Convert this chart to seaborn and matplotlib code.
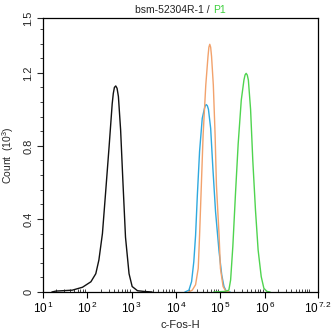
import numpy as np
import pandas as pd
import matplotlib
matplotlib.use("Agg")
import matplotlib.pyplot as plt
from matplotlib.ticker import FixedLocator, FuncFormatter
import seaborn as sns

# Histogram traces: log10(c-Fos-H) positions and counts (x10^3)
black_log = [1.20, 1.29, 1.66, 1.89, 2.08, 2.19, 2.26, 2.34, 2.41, 2.49, 2.56, 2.585, 2.61,
             2.64, 2.67, 2.70, 2.75, 2.80, 2.86, 2.94, 3.01, 3.13, 3.28, 3.46]
black_cnt = [0.0, 0.005, 0.010, 0.026, 0.056, 0.10, 0.175, 0.32, 0.54, 0.795, 1.03, 1.087, 1.12,
             1.128, 1.115, 1.07, 0.887, 0.613, 0.30, 0.10, 0.03, 0.007, 0.003, 0.0]

blue_log = [4.20, 4.29, 4.35, 4.40, 4.44, 4.48, 4.53, 4.59, 4.64, 4.66, 4.68, 4.705, 4.73, 4.78,
            4.83, 4.89, 4.97, 5.03, 5.08, 5.13, 5.22]
blue_cnt = [0.0, 0.01, 0.057, 0.166, 0.31, 0.53, 0.77, 0.95, 1.005, 1.02, 1.026, 1.02, 1.0, 0.896,
            0.677, 0.44, 0.22, 0.093, 0.03, 0.005, 0.0]

orange_log = [4.28, 4.365, 4.44, 4.50, 4.53, 4.57, 4.61, 4.67, 4.72, 4.74, 4.76, 4.78, 4.80, 4.84,
              4.88, 4.91, 4.97, 5.00, 5.06, 5.12, 5.20]
orange_cnt = [0.0, 0.01, 0.04, 0.13, 0.31, 0.585, 0.86, 1.133, 1.29, 1.34, 1.356, 1.34, 1.29, 1.133,
              0.86, 0.585, 0.31, 0.13, 0.03, 0.005, 0.0]

green_log = [4.85, 5.10, 5.19, 5.23, 5.28, 5.34, 5.40, 5.47, 5.53, 5.555, 5.58, 5.605, 5.63, 5.68,
             5.73, 5.79, 5.85, 5.92, 5.98, 6.05, 6.12]
green_cnt = [0.0, 0.003, 0.01, 0.066, 0.25, 0.54, 0.81, 1.05, 1.16, 1.188, 1.197, 1.188, 1.16, 1.0,
             0.72, 0.45, 0.23, 0.084, 0.02, 0.003, 0.0]

series_names = ["isotype", "blank", "antibody", "P1"]
series_colors = ["#111111", "#2fa9df", "#f2a26c", "#4fd44f"]

x_tick_exps = [1, 2, 3, 4, 5, 6, 7.2]
x_tick_labels = ["1", "2", "3", "4", "5", "6", "7.2"]
y_major = [0, 0.4, 0.8, 1.2, 1.5]
y_major_labels = ["0", "0.4", "0.8", "1.2", "1.5"]

frames = []
for name, lg, ct in zip(series_names,
                        [black_log, blue_log, orange_log, green_log],
                        [black_cnt, blue_cnt, orange_cnt, green_cnt]):
    frames.append(pd.DataFrame({"x": np.power(10.0, lg), "count": ct, "series": name}))
df = pd.concat(frames, ignore_index=True)

sns.set_style("ticks")
plt.rcParams["font.family"] = ["Liberation Sans", "DejaVu Sans"]
plt.rcParams["mathtext.fontset"] = "custom"
plt.rcParams["mathtext.rm"] = "Liberation Sans"
plt.rcParams["mathtext.it"] = "Liberation Sans"

fig = plt.figure(figsize=(3.32, 3.35), dpi=100)
ax = fig.add_axes([43 / 332, 43 / 335, 275 / 332, 274 / 335])

sns.lineplot(data=df, x="x", y="count", hue="series", hue_order=series_names,
             palette=series_colors, ax=ax, legend=False, linewidth=1.0,
             sort=False, estimator=None)

ax.set_xscale("log")
ax.set_xlim(10, 10 ** 7.2)
ax.set_ylim(0, 1.5)

ax.xaxis.set_major_locator(FixedLocator([10 ** e for e in x_tick_exps]))
ax.xaxis.set_major_formatter(FuncFormatter(
    lambda v, p: r"$\mathregular{10^{\,%s}}$" % x_tick_labels[p] if p is not None and p < len(x_tick_labels) else ""))
minor_x = [m * 10 ** k for k in range(1, 7) for m in range(2, 10)] + [1e7]
ax.xaxis.set_minor_locator(FixedLocator(minor_x))
ax.xaxis.set_minor_formatter(FuncFormatter(lambda v, p: ""))

ax.yaxis.set_major_locator(FixedLocator(y_major))
ax.set_yticklabels(y_major_labels, rotation=90, va="center")
ax.yaxis.set_minor_locator(FixedLocator([i * 0.08 for i in range(1, 19)]))

ax.tick_params(axis="x", which="major", direction="out", length=4, width=0.8,
               labelsize=8.5, pad=2, colors="black")
ax.tick_params(axis="x", which="minor", direction="in", length=2.5, width=0.6)
ax.tick_params(axis="y", which="major", direction="out", length=4, width=0.8,
               labelsize=8, pad=3)
ax.tick_params(axis="y", which="minor", direction="out", length=2.5, width=0.6)

for s in ax.spines.values():
    s.set_visible(True)
    s.set_linewidth(0.9)
    s.set_color("black")

ax.set_xlabel("c-Fos-H", fontsize=8, labelpad=3)
ax.set_ylabel(r"Count  (10$\mathregular{^3}$)", fontsize=7.5, labelpad=5)

# Two-colour title centred over the plotting area
fig.canvas.draw()
renderer = fig.canvas.get_renderer()
part1 = "bsm-52304R-1 / "
part2 = "P1"
t1 = fig.text(0, 0, part1, fontsize=7.5, color="#222222")
t2 = fig.text(0, 0, part2, fontsize=7.5, color="#3ccf3c")
w1 = t1.get_window_extent(renderer).width
w2 = t2.get_window_extent(renderer).width
cx = (43 + 318) / 2.0
x0 = cx - (w1 + w2) / 2.0
ty = 1 - 13 / 335
t1.set_position((x0 / 332, ty))
t2.set_position(((x0 + w1) / 332, ty))

fig.savefig("out.png", dpi=100)
